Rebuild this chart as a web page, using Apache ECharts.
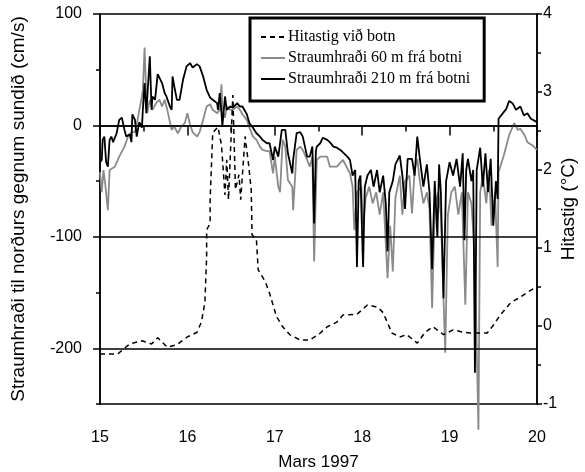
<!DOCTYPE html>
<html><head><meta charset="utf-8">
<script src="https://cdn.jsdelivr.net/npm/echarts@6/dist/echarts.min.js"></script>
<style>html,body{margin:0;padding:0;background:#fff}#c{width:585px;height:472px}</style>
</head><body><div id="c"></div>
<script>
// x: day of March 1997 ; left axis: cm/s ; right axis: degC
const xTicks = [15, 16, 17, 18, 19, 20];
const leftMajor = [-200, -100, 0, 100];
const leftMinor = [-250, -150, -50, 50];
const refLines = [0, -100, -200];
const seriesNames = ['Hitastig við botn', 'Straumhraði 60 m frá botni', 'Straumhraði 210 m frá botni'];

const temp = [[15.00,-0.36],[15.20,-0.36],[15.34,-0.23],[15.48,-0.19],[15.59,-0.23],[15.66,-0.15],[15.77,-0.27],[15.88,-0.24],[16.00,-0.14],[16.11,-0.08],[16.16,0.05],[16.20,0.30],[16.22,0.89],[16.22,1.23],[16.26,1.32],[16.26,1.62],[16.29,2.48],[16.35,2.55],[16.39,2.32],[16.43,1.68],[16.45,2.13],[16.47,1.62],[16.52,2.96],[16.55,1.75],[16.59,1.94],[16.61,1.62],[16.66,2.43],[16.70,2.07],[16.73,1.75],[16.74,1.17],[16.79,1.10],[16.81,0.72],[16.89,0.57],[16.94,0.42],[17.02,0.12],[17.09,-0.01],[17.17,-0.11],[17.29,-0.18],[17.40,-0.18],[17.52,-0.09],[17.60,-0.01],[17.71,0.05],[17.78,0.14],[17.94,0.15],[18.06,0.27],[18.18,0.24],[18.24,0.17],[18.34,-0.09],[18.43,-0.14],[18.51,-0.11],[18.63,-0.22],[18.72,-0.08],[18.81,-0.01],[18.93,-0.11],[19.04,-0.05],[19.16,-0.08],[19.24,-0.09],[19.43,-0.09],[19.50,0.01],[19.58,0.14],[19.70,0.30],[19.81,0.37],[19.93,0.46],[20.00,0.50]];

const cur60 = [[15.00,-42],[15.02,-60],[15.04,-40],[15.06,-53],[15.09,-76],[15.11,-40],[15.17,-37],[15.22,-28],[15.28,-19],[15.32,-10],[15.36,-6],[15.40,-6],[15.43,5],[15.45,14],[15.48,26],[15.49,32],[15.51,70],[15.53,26],[15.54,11],[15.57,23],[15.60,14],[15.65,21],[15.68,23],[15.71,17],[15.74,23],[15.77,14],[15.82,-4],[15.85,-1],[15.89,-7],[15.93,-1],[15.97,2],[16.00,11],[16.03,1],[16.06,-6],[16.11,-10],[16.14,-6],[16.18,5],[16.22,17],[16.26,19],[16.29,14],[16.34,11],[16.37,14],[16.39,37],[16.40,14],[16.43,7],[16.45,17],[16.49,14],[16.52,14],[16.57,17],[16.60,14],[16.63,10],[16.68,5],[16.71,-2],[16.75,-10],[16.79,-13],[16.83,-19],[16.86,-22],[16.91,-23],[16.94,-23],[16.98,-43],[17.00,-28],[17.04,-55],[17.06,-60],[17.09,-13],[17.12,-19],[17.15,-49],[17.20,-55],[17.21,-76],[17.25,-22],[17.29,-19],[17.32,-22],[17.37,-31],[17.40,-37],[17.43,-28],[17.45,-122],[17.48,-31],[17.52,-28],[17.60,-28],[17.63,-37],[17.71,-37],[17.78,-31],[17.86,-43],[17.89,-55],[17.91,-94],[17.94,-60],[17.99,-55],[18.01,-90],[18.04,-65],[18.08,-55],[18.12,-70],[18.16,-60],[18.20,-80],[18.24,-60],[18.29,-137],[18.32,-90],[18.35,-131],[18.38,-65],[18.43,-45],[18.46,-80],[18.49,-50],[18.54,-45],[18.57,-79],[18.60,-40],[18.63,-30],[18.66,-50],[18.70,-70],[18.74,-60],[18.77,-75],[18.80,-164],[18.83,-75],[18.87,-60],[18.90,-80],[18.95,-204],[18.98,-80],[19.02,-60],[19.06,-55],[19.10,-80],[19.14,-60],[19.18,-161],[19.21,-60],[19.25,-70],[19.29,-120],[19.33,-273],[19.35,-60],[19.38,-45],[19.42,-70],[19.45,-40],[19.48,-90],[19.52,-60],[19.55,-127],[19.56,-42],[19.62,-27],[19.68,-9],[19.74,2],[19.78,-4],[19.81,-3],[19.86,-9],[19.89,-15],[19.95,-18],[20.00,-22]];

const cur210 = [[15.00,-33],[15.02,-31],[15.03,-13],[15.05,-10],[15.07,-33],[15.09,-37],[15.11,-13],[15.13,-10],[15.15,-15],[15.19,-7],[15.22,5],[15.25,7],[15.28,-4],[15.30,-10],[15.34,-8],[15.36,-15],[15.37,10],[15.40,5],[15.42,-10],[15.44,-1],[15.45,3],[15.48,-2],[15.49,14],[15.51,38],[15.53,11],[15.57,62],[15.59,14],[15.60,26],[15.63,23],[15.66,46],[15.71,38],[15.74,29],[15.76,26],[15.80,17],[15.82,14],[15.83,44],[15.85,35],[15.88,23],[15.91,23],[15.95,41],[15.99,53],[16.03,56],[16.06,52],[16.11,55],[16.14,53],[16.18,44],[16.22,32],[16.26,25],[16.29,23],[16.34,20],[16.35,14],[16.37,29],[16.39,11],[16.40,-1],[16.43,26],[16.45,14],[16.49,17],[16.52,16],[16.57,20],[16.60,17],[16.63,17],[16.68,10],[16.71,2],[16.75,-2],[16.79,-7],[16.83,-10],[16.86,-13],[16.91,-16],[16.94,-16],[16.98,-31],[17.00,-19],[17.04,-28],[17.08,-4],[17.12,-4],[17.15,-25],[17.20,-43],[17.21,-31],[17.25,-7],[17.29,-6],[17.32,-10],[17.37,-28],[17.40,-28],[17.43,-19],[17.45,-88],[17.47,-23],[17.48,-19],[17.52,-16],[17.55,-11],[17.60,-13],[17.63,-15],[17.67,-19],[17.71,-20],[17.75,-22],[17.83,-28],[17.86,-31],[17.89,-45],[17.92,-40],[17.94,-127],[17.96,-50],[17.98,-45],[18.01,-127],[18.03,-55],[18.06,-45],[18.10,-40],[18.13,-55],[18.17,-40],[18.20,-60],[18.24,-45],[18.27,-70],[18.29,-113],[18.31,-60],[18.35,-50],[18.38,-35],[18.43,-27],[18.46,-45],[18.49,-75],[18.52,-30],[18.57,-30],[18.60,-45],[18.63,-10],[18.66,-30],[18.70,-55],[18.74,-35],[18.77,-60],[18.80,-129],[18.83,-50],[18.86,-100],[18.88,-35],[18.90,-60],[18.93,-155],[18.96,-50],[19.00,-33],[19.04,-45],[19.08,-30],[19.12,-55],[19.15,-25],[19.17,-103],[19.19,-40],[19.21,-30],[19.25,-50],[19.27,-40],[19.29,-222],[19.31,-40],[19.35,-20],[19.38,-55],[19.41,-25],[19.44,-60],[19.47,-30],[19.50,-90],[19.53,-50],[19.55,-66],[19.56,6],[19.61,11],[19.65,15],[19.68,22],[19.72,20],[19.76,14],[19.81,17],[19.85,9],[19.89,11],[19.93,6],[20.00,3]];

const chart = echarts.init(document.getElementById('c'), null, {renderer: 'canvas'});
const FONT = 'Liberation Sans, Arial, sans-serif';
const axisLine = {show: true, lineStyle: {color: '#000', width: 1.5}};
chart.setOption({
  animation: false,
  grid: {left: 100, right: 48, top: 14, bottom: 68, containLabel: false, outerBoundsMode: 'none',
    show: true, borderColor: '#000', borderWidth: 1.5, backgroundColor: 'transparent'},
  legend: {
    orient: 'vertical', left: 250, top: 18,
    padding: [11, 14, 14, 10], itemGap: 5, itemWidth: 24, itemHeight: 14,
    borderColor: '#000', borderWidth: 3, backgroundColor: '#fff',
    itemStyle: {opacity: 0, borderWidth: 0},
    textStyle: {fontFamily: 'Liberation Serif, Times New Roman, serif', fontSize: 16, color: '#000', padding: [0,0,0,-2]},
    data: seriesNames
  },
  xAxis: {
    type: 'value', min: 15, max: 20, interval: 1,
    name: 'Mars 1997', nameLocation: 'middle', nameGap: 50,
    nameTextStyle: {fontFamily: FONT, fontSize: 17, color: '#000'},
    axisLine: axisLine,
    axisTick: {show: true, length: 10, lineStyle: {color: '#000', width: 1.5}},
    minorTick: {show: true, splitNumber: 2, length: 6, lineStyle: {color: '#000', width: 1.5}},
    axisLabel: {fontFamily: FONT, fontSize: 16, color: '#000', margin: 26},
    splitLine: {show: false}
  },
  yAxis: [
    {
      type: 'value', position: 'left', min: -250, max: 100,
      name: 'Straumhraði til norðurs gegnum sundið (cm/s)', nameLocation: 'middle', nameGap: 72, nameRotate: 90,
      nameMoveOverlap: false,
      nameTextStyle: {fontFamily: FONT, fontSize: 19, color: '#000'},
      axisLine: axisLine,
      axisTick: {show: true, length: 7, customValues: leftMajor, lineStyle: {color: '#000', width: 1.5}},
      axisLabel: {customValues: leftMajor, fontFamily: FONT, fontSize: 16, color: '#000', margin: 18},
      splitLine: {show: false}
    },
    {
      type: 'value', position: 'right', min: -1, max: 4, interval: 1,
      name: 'Hitastig (°C)', nameLocation: 'middle', nameGap: 22, nameRotate: 90,
      nameMoveOverlap: false,
      nameTextStyle: {fontFamily: FONT, fontSize: 19, color: '#000'},
      axisLine: axisLine,
      axisTick: {show: true, length: 5, lineStyle: {color: '#000', width: 1.5}},
      minorTick: {show: true, splitNumber: 2, length: 4, lineStyle: {color: '#000', width: 1.5}},
      axisLabel: {fontFamily: FONT, fontSize: 16, color: '#000', margin: 6},
      splitLine: {show: false}
    },
    {
      type: 'value', position: 'left', min: -250, max: 100,
      axisLine: {show: false},
      axisTick: {show: true, length: 4, customValues: leftMinor, lineStyle: {color: '#000', width: 1.5}},
      axisLabel: {show: false},
      splitLine: {show: false}
    }
  ],
  series: [
    {
      name: seriesNames[1], type: 'line', yAxisIndex: 0, data: cur60, clip: false,
      showSymbol: false, symbol: 'none', color: '#8a8a8a',
      lineStyle: {color: '#8a8a8a', width: 1.8},
      markLine: {silent: true, symbol: 'none', label: {show: false},
        lineStyle: {color: '#000', width: 1.5, type: 'solid'},
        data: refLines.map(v => ({yAxis: v}))}
    },
    {
      name: seriesNames[2], type: 'line', yAxisIndex: 0, data: cur210,
      showSymbol: false, symbol: 'none', color: '#000',
      lineStyle: {color: '#000', width: 1.8}
    },
    {
      name: seriesNames[0], type: 'line', yAxisIndex: 1, data: temp,
      showSymbol: false, symbol: 'none', color: '#000',
      lineStyle: {color: '#000', width: 1.5, type: [5, 4]}
    }
  ]
});
</script></body></html>
